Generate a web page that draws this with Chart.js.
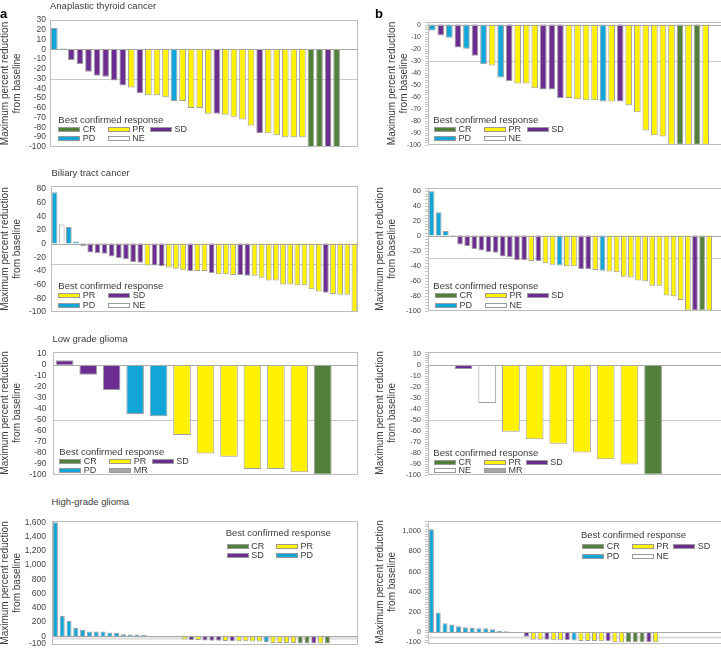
<!DOCTYPE html>
<html>
<head>
<meta charset="utf-8">
<script src="https://cdn.jsdelivr.net/npm/chart.js@4"></script>
<style>
  body { margin: 0; background: #fff; }
  #fig { position: relative; width: 721px; height: 651px; overflow: hidden;
         font-family: "Liberation Sans", Arial, sans-serif; color: #3a3a3a; }
  #fig div { position: absolute; white-space: nowrap; }
  .t { font-size: 9.5px; line-height: 11px; }
  .lab { font-size: 9px; line-height: 11px; }
  .letter { font-weight: bold; font-size: 13px; line-height: 13px; color: #000; }
  .sw { width: 22px; height: 5px; box-sizing: border-box; border: 1px solid #9a9a9a; }
  canvas { position: absolute; }
</style>
</head>
<body>
<div id="fig"></div>
<script>
// ---- data ----
// Anaplastic thyroid cancer
const atcValuesA = [22, 1, -11, -15, -23, -27, -28, -32, -37, -39, -45, -47, -47, -49, -53, -53, -60, -60, -66, -66, -67, -69, -72, -78, -86, -86, -88, -90, -90, -90, -100, -100, -100, -100];
const atcRespA = ['PD','PD','SD','SD','SD','SD','SD','SD','SD','PR','SD','PR','PR','PR','PD','PR','PR','PR','PR','SD','PR','PR','PR','PR','SD','PR','PR','PR','PR','PR','CR','CR','SD','CR'];
const atcValuesB = [-5, -9, -11, -19, -20, -26, -33, -34, -44, -47, -49, -49, -53, -54, -54, -61, -61, -62, -63, -63, -64, -64, -64, -67, -73, -88, -92, -93, -100, -100, -100, -100, -100];
const atcRespB = ['PD','SD','PD','SD','PD','SD','PD','PR','PD','SD','PR','PR','PR','SD','SD','SD','PR','PR','PR','PR','PD','PR','SD','PR','PR','PR','PR','PR','PR','CR','PR','CR','PR'];
const atcTicksA = [30, 20, 10, 0, -10, -20, -30, -40, -50, -60, -70, -80, -90, -100];
const atcTicksB = [0, -10, -20, -30, -40, -50, -60, -70, -80, -90, -100];

// Biliary tract cancer
const btcValuesA = [75, 28, 24, 3, -4, -13, -14, -15, -19, -21, -23, -27, -28, -32, -32, -33, -35, -37, -39, -40, -40, -40, -43, -45, -45, -46, -46, -47, -47, -50, -54, -54, -60, -60, -61, -61, -67, -70, -72, -74, -75, -75, -100];
const btcRespA = ['PD','NE','PD','PD','SD','SD','SD','SD','SD','SD','SD','SD','SD','PR','SD','SD','PR','PR','PR','SD','PR','PR','SD','PR','PR','PR','SD','SD','PR','PR','PR','PR','PR','PR','PR','PR','PR','PR','SD','PR','PR','PR','PR'];
const btcValuesB = [59, 31, 6, -2, -12, -14, -18, -20, -22, -23, -28, -29, -33, -33, -34, -34, -37, -39, -40, -41, -41, -45, -45, -46, -47, -48, -49, -55, -56, -60, -61, -67, -67, -80, -81, -86, -100, -100, -100, -100];
const btcRespB = ['PD','PD','PD','SD','SD','SD','SD','SD','SD','SD','SD','SD','SD','SD','PR','SD','PR','PR','PD','PR','PR','SD','SD','PR','PD','PR','PR','PR','PR','PR','PR','PR','PR','PR','PR','PR','PR','SD','CR','PR'];
const btcTicksA = [80, 60, 40, 20, 0, -20, -40, -60, -80, -100];
const btcTicksB = [60, 40, 20, 0, -20, -40, -60, -80, -100];

// Low grade glioma
const lggValuesA = [4, -9, -23, -45, -47, -64, -81, -84, -95, -95, -98, -100];
const lggRespA = ['SD','SD','SD','PD','PD','PR','PR','PR','PR','PR','PR','CR'];
const lggValuesB = [null, -4, -35, -61, -68, -72, -80, -86, -91, -100];
const lggRespB = [null,'SD','NE','PR','PR','PR','PR','PR','PR','CR'];
const lggTicks = [10, 0, -10, -20, -30, -40, -50, -60, -70, -80, -90, -100];

// High-grade glioma
const hggValuesA = [1600, 285, 214, 116, 94, 67, 67, 67, 53, 49, 31, 27, 27, 22, null, null, null, -8, -12, -45, -50, -52, -58, -62, -62, -66, -68, -70, -70, -72, -72, -80, -92, -94, -94, -95, -100, -100, -100, -100, -100];
const hggRespA = ['PD','PD','PD','PD','PD','PD','PD','PD','PD','PD','PD','PD','PD','PD',null,null,null,'SD','SD','PR','SD','PR','SD','SD','SD','PR','SD','PR','PR','PR','PR','PD','PR','PR','PR','PR','CR','CR','SD','PR','CR'];
const hggValuesB = [1020, 194, 88, 75, 59, 50, 41, 38, 38, 28, 13, 9, 3, -3, -45, -75, -75, -75, -80, -80, -80, -82, -88, -88, -88, -90, -90, -100, -100, -100, -100, -100, -100, -100];
const hggRespB = ['PD','PD','PD','PD','PD','PD','PD','PD','PD','PD','PD','PD','PD','PD','SD','PR','PR','SD','PR','PR','SD','PD','PR','PR','PR','PR','SD','PR','PR','CR','CR','CR','SD','PR'];
const hggTicksA = [1600, 1400, 1200, 1000, 800, 600, 400, 200, 0, -100];
const hggTicksB = [1000, 800, 600, 400, 200, 0, -100];

const COLORS = { CR: '#52803a', PR: '#fff100', SD: '#6b2d90', PD: '#12a6d8', NE: '#ffffff', MR: '#a8a8a8' };

Chart.defaults.font.family = '"Liberation Sans", Arial, sans-serif';

const fig = document.getElementById('fig');

function addDiv(cls, x, y, text) {
  const d = document.createElement('div');
  d.className = cls;
  d.style.left = x + 'px';
  d.style.top = y + 'px';
  if (text) d.textContent = text;
  fig.appendChild(d);
  return d;
}

// frame, zero line, threshold line and the small minor ticks
const framePlugin = {
  id: 'frame',
  beforeDatasetsDraw(chart, args, opts) {
    const { ctx, chartArea: a, scales: { y } } = chart;
    ctx.save();
    (opts.refs || []).forEach(r => {
      const py = Math.round(y.getPixelForValue(r.v)) + 0.5;
      ctx.strokeStyle = r.c;
      ctx.lineWidth = r.w;
      ctx.beginPath();
      ctx.moveTo(a.left, py);
      ctx.lineTo(a.right, py);
      ctx.stroke();
    });
    ctx.restore();
  },
  afterDatasetsDraw(chart, args, opts) {
    const { ctx, chartArea: a, scales: { y } } = chart;
    ctx.save();
    ctx.lineWidth = 1;
    if (opts.minor) {
      ctx.strokeStyle = '#c4c4c4';
      ctx.beginPath();
      for (let v = y.min - (y.min % opts.minor); v <= y.max; v += opts.minor) {
        const py = Math.round(y.getPixelForValue(v)) + 0.5;
        ctx.moveTo(a.left - 3, py);
        ctx.lineTo(a.left, py);
      }
      ctx.stroke();
    }
    ctx.strokeStyle = '#a9a9a9';
    const zy = Math.round(y.getPixelForValue(0)) + 0.5;
    ctx.beginPath();
    ctx.moveTo(a.left, zy);
    ctx.lineTo(a.right, zy);
    ctx.stroke();
    ctx.strokeStyle = '#bcbcbc';
    ctx.strokeRect(Math.round(a.left) + 0.5, Math.round(a.top) + 0.5,
                   Math.round(a.right - a.left) - 1, Math.round(a.bottom - a.top) - 1);
    ctx.restore();
  }
};

function makePanel(p) {
  const padT = 8, padB = 8, padR = 2;
  const axisW = p.left - p.axisLeft;
  const canvas = document.createElement('canvas');
  canvas.width = axisW + p.width + padR;
  canvas.height = p.height + padT + padB;
  canvas.style.left = p.axisLeft + 'px';
  canvas.style.top = (p.top - padT) + 'px';
  fig.appendChild(canvas);

  const labels = Array.from({ length: p.slots }, (_, i) => String(i + 1));

  new Chart(canvas, {
    type: 'bar',
    data: {
      labels: labels,
      datasets: [{
        data: p.values,
        backgroundColor: p.resp.map(r => COLORS[r] || 'transparent'),
        borderColor: '#9e9e9e',
        borderWidth: 1,
        barPercentage: p.bar,
        categoryPercentage: 1.0
      }]
    },
    options: {
      responsive: false,
      animation: false,
      events: [],
      layout: { padding: { top: padT, bottom: padB, left: 0, right: padR } },
      plugins: {
        legend: { display: false },
        tooltip: { enabled: false },
        frame: { refs: p.refs, minor: p.minor }
      },
      scales: {
        x: { display: false, offset: true, grid: { display: false } },
        y: {
          min: p.min,
          max: p.max,
          grid: { display: false, drawTicks: false, tickLength: 0 },
          border: { display: false },
          ticks: { autoSkip: false, padding: p.pad, color: '#444', font: { size: p.tickSize } },
          afterBuildTicks: s => { s.ticks = p.ticks.map(v => ({ value: v })); },
          afterFit: s => { s.width = axisW; },
          title: {
            display: true,
            text: ['Maximum percent reduction', 'from baseline'],
            color: '#3a3a3a',
            font: { size: 10, lineHeight: 1.2 },
            padding: { top: 0, bottom: 0 }
          }
        }
      }
    },
    plugins: [framePlugin]
  });
}

function addLegend(lg) {
  addDiv('t', lg.x, lg.capTop - 2, 'Best confirmed response');
  lg.rows.forEach((row, r) => {
    const cy = lg.rowCenters[r];
    row.forEach((key, c) => {
      const sx = lg.cols[c];
      const sw = addDiv('sw', sx, cy - 2.5);
      sw.style.background = COLORS[key];
      addDiv('lab', sx + 24.5, cy - 5.5, key);
    });
  });
}

const thin30 = [{ v: -30, c: '#c9c9c9', w: 1 }];
const thin50 = [{ v: -50, c: '#c9c9c9', w: 1 }];

makePanel({ axisLeft: -1, left: 50, top: 19, width: 308, height: 129, min: -100, max: 30, ticks: atcTicksA,
  values: atcValuesA, resp: atcRespA, slots: 36, bar: 0.78, refs: thin30, pad: 4, tickSize: 8.5 });
makePanel({ axisLeft: 386, left: 428, top: 19, width: 299, height: 129, min: -100, max: 2, ticks: atcTicksB,
  values: atcValuesB, resp: atcRespB, slots: 35, bar: 0.78, refs: thin30, pad: 7, tickSize: 7, minor: 2 });
makePanel({ axisLeft: -1, left: 51, top: 184, width: 307, height: 130, min: -100, max: 84, ticks: btcTicksA,
  values: btcValuesA, resp: btcRespA, slots: 43, bar: 0.8, refs: thin30, pad: 5, tickSize: 8.5 });
makePanel({ axisLeft: 374, left: 428, top: 184, width: 299, height: 130, min: -100, max: 64, ticks: btcTicksB,
  values: btcValuesB, resp: btcRespB, slots: 42, bar: 0.8, refs: thin30, pad: 7, tickSize: 7.5, minor: 4 });
makePanel({ axisLeft: -1, left: 53, top: 348, width: 305, height: 130, min: -100, max: 12, ticks: lggTicks,
  values: lggValuesA, resp: lggRespA, slots: 13, bar: 0.75, refs: thin50, pad: 6.5, tickSize: 8.5 });
makePanel({ axisLeft: 374, left: 428, top: 348, width: 308, height: 130, min: -100, max: 12, ticks: lggTicks,
  values: lggValuesB, resp: lggRespB, slots: 13, bar: 0.75, refs: thin50, pad: 7, tickSize: 7.5, minor: 2 });
makePanel({ axisLeft: -1, left: 52, top: 518, width: 306, height: 130, min: -120, max: 1617, ticks: hggTicksA,
  values: hggValuesA, resp: hggRespA, slots: 45, bar: 0.74, refs: [{ v: -30, c: '#e0e0e0', w: 2.5 }], pad: 6, tickSize: 8.5 });
makePanel({ axisLeft: 374, left: 428, top: 517, width: 299, height: 130, min: -112, max: 1106, ticks: hggTicksB,
  values: hggValuesB, resp: hggRespB, slots: 44, bar: 0.74, refs: [{ v: -50, c: '#e0e0e0', w: 2.5 }], pad: 7, tickSize: 7.5, minor: 25 });

// panel letters and titles
addDiv('letter', 0, 7, 'a');
addDiv('letter', 375, 7, 'b');
addDiv('t', 50, 0, 'Anaplastic thyroid cancer');
addDiv('t', 51.5, 167, 'Biliary tract cancer');
addDiv('t', 52.5, 333, 'Low grade glioma');
addDiv('t', 51.5, 496, 'High-grade glioma');

// legends
addLegend({ x: 58.3, capTop: 115.5, rowCenters: [129, 138.5], cols: [58.3, 107.7, 150], rows: [['CR','PR','SD'], ['PD','NE']] });
addLegend({ x: 433.3, capTop: 115.5, rowCenters: [129, 138.3], cols: [434, 484, 526.7], rows: [['CR','PR','SD'], ['PD','NE']] });
addLegend({ x: 58.3, capTop: 281.7, rowCenters: [295.7, 305], cols: [58.3, 108.3], rows: [['PR','SD'], ['PD','NE']] });
addLegend({ x: 433.3, capTop: 282.3, rowCenters: [295.7, 305], cols: [435, 485, 526.7], rows: [['CR','PR','SD'], ['PD','NE']] });
addLegend({ x: 59.3, capTop: 448.3, rowCenters: [461.8, 470.2], cols: [59.3, 109.3, 151.7], rows: [['CR','PR','SD'], ['PD','MR']] });
addLegend({ x: 433.3, capTop: 449, rowCenters: [462.5, 470.8], cols: [434, 484, 525.7], rows: [['CR','PR','SD'], ['NE','MR']] });
addLegend({ x: 225.7, capTop: 529.3, rowCenters: [546, 555.3], cols: [226.7, 276], rows: [['CR','PR'], ['SD','PD']] });
addLegend({ x: 581, capTop: 530.7, rowCenters: [546.8, 556.5], cols: [582.3, 631.7, 673.3], rows: [['CR','PR','SD'], ['PD','NE']] });
</script>
</body>
</html>
